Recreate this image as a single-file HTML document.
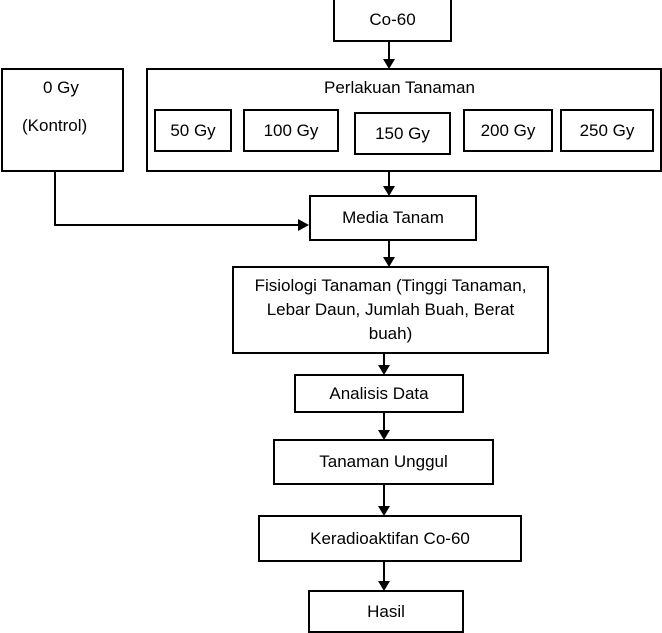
<!DOCTYPE html>
<html><head><meta charset="utf-8"><style>
html,body{margin:0;padding:0;background:#fff;}
body{width:662px;height:633px;position:relative;overflow:hidden;font-family:"Liberation Sans",sans-serif;font-size:17px;color:#000;}
.b{position:absolute;border:2px solid #000;box-sizing:border-box;background:#fff;display:flex;align-items:center;justify-content:center;text-align:center;line-height:24px;white-space:nowrap;}
.t{position:absolute;white-space:nowrap;}
svg{position:absolute;left:0;top:0;}
</style></head><body>
<svg width="662" height="633">
<g stroke="#000" stroke-width="2" fill="none">
<line x1="389" y1="41" x2="389" y2="60"/>
<line x1="389" y1="165" x2="389" y2="187"/>
<polyline points="55,171 55,225 300,225"/>
<line x1="389" y1="240" x2="389" y2="258"/>
<line x1="384" y1="353" x2="384" y2="366"/>
<line x1="384" y1="412" x2="384" y2="431"/>
<line x1="384" y1="484" x2="384" y2="507"/>
<line x1="384" y1="561" x2="384" y2="582"/>
</g>
<g fill="#000">
<polygon points="383,59 395,59 389,69"/>
<polygon points="383,186 395,186 389,196"/>
<polygon points="298,219 298,231 309,225"/>
<polygon points="383,257 395,257 389,267"/>
<polygon points="378,365 390,365 384,375"/>
<polygon points="378,430 390,430 384,440"/>
<polygon points="378,506 390,506 384,516"/>
<polygon points="378,581 390,581 384,591"/>
</g>
</svg>
<div class="b" style="left:333px;top:-2px;width:119px;height:44px;">Co-60</div>
<div class="b" style="left:1px;top:68px;width:123px;height:104px;"></div>
<div class="t" style="left:43px;top:78px;">0 Gy</div>
<div class="t" style="left:22px;top:116px;">(Kontrol)</div>
<div class="b" style="left:146px;top:68px;width:516px;height:104px;"></div>
<div class="t" style="left:324px;top:78px;">Perlakuan Tanaman</div>
<div class="b" style="left:154px;top:109px;width:78px;height:43px;">50 Gy</div>
<div class="b" style="left:243px;top:109px;width:96px;height:43px;">100 Gy</div>
<div class="b" style="left:354px;top:112px;width:97px;height:43px;">150 Gy</div>
<div class="b" style="left:463px;top:109px;width:90px;height:43px;">200 Gy</div>
<div class="b" style="left:560px;top:109px;width:94px;height:43px;">250 Gy</div>
<div class="b" style="left:309px;top:195px;width:168px;height:46px;">Media Tanam</div>
<div class="b" style="left:232px;top:266px;width:317px;height:88px;">Fisiologi Tanaman (Tinggi Tanaman,<br>Lebar Daun, Jumlah Buah, Berat<br>buah)</div>
<div class="b" style="left:294px;top:374px;width:170px;height:39px;">Analisis Data</div>
<div class="b" style="left:273px;top:439px;width:221px;height:46px;">Tanaman Unggul</div>
<div class="b" style="left:258px;top:515px;width:264px;height:47px;">Keradioaktifan Co-60</div>
<div class="b" style="left:308px;top:590px;width:156px;height:43px;">Hasil</div>
</body></html>
